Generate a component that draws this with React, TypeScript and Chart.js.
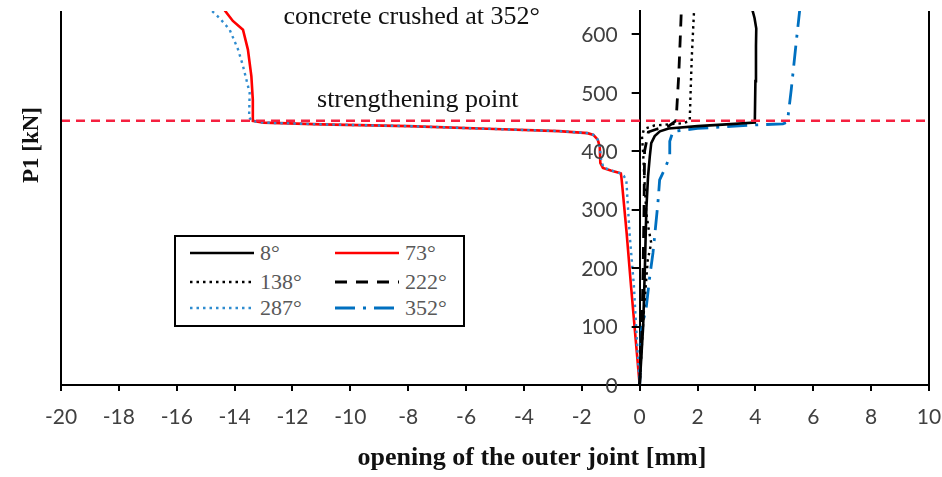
import React, { useEffect, useRef } from 'react';
import { Chart, registerables } from 'chart.js';

Chart.register(...registerables);

// ---------- data (opening of outer joint [mm] vs P1 [kN]) ----------
const xMin = -20;
const xMax = 10;
const xStep = 2;
const yMin = 0;
const yMax = 640;
const yStep = 100;

const s8x = [0, 0.12, 0.18, 0.23, 0.29, 0.35, 0.4, 0.52, 0.7, 1.0, 2.0, 3.0, 3.98, 4.0, 4.02, 4.03, 3.97, 3.9];
const s8y = [0, 100, 200, 300, 357, 391, 414, 426, 434, 439, 443, 446, 449, 520, 580, 610, 628, 641];

const s73x = [0, -0.15, -0.3, -0.45, -0.6, -0.63, -0.65, -0.69, -1.0, -1.27, -1.36, -1.38, -1.45, -1.6, -1.8, -2.8, -5, -8, -11, -13.0, -13.37, -13.37, -13.42, -13.54, -13.71, -14.06, -14.34];
const s73y = [0, 85, 170, 260, 340, 355, 362, 363, 367, 371.5, 380, 408, 420, 428, 431, 434.5, 438, 443, 446, 449, 452, 488, 528, 574, 608, 623, 641];

const s138x = [0, 0.06, 0.15, 0.28, 0.4, 0.3, 0.23, 0.17, 0.12, 0.08, 0.15, 0.5, 1.0, 1.5, 1.73, 1.76, 1.8, 1.88];
const s138y = [0, 55, 130, 214, 243, 270, 294, 346, 397, 425, 438, 444, 446, 448, 452, 500, 560, 641];

const s222x = [0, 0.08, 0.12, 0.15, 0.17, 0.3, 0.6, 1.0, 1.25, 1.28, 1.35, 1.4, 1.44];
const s222y = [0, 100, 200, 300, 400, 433, 438, 443, 452, 470, 530, 590, 641];

const s287x = [0, -0.1, -0.2, -0.35, -0.46, -0.55, -0.65, -0.9, -1.25, -1.33, -1.38, -1.45, -1.6, -1.8, -2.8, -5, -8, -11, -13.0, -13.4, -13.5, -13.48, -13.71, -13.88, -14.17, -14.52, -14.8];
const s287y = [0, 80, 170, 260, 350, 358, 362, 366, 372, 385, 408, 420, 428, 431, 434.5, 438, 443, 446, 449, 452, 458, 500, 546, 574, 608, 628, 641];

const s352x = [0, 0.06, 0.23, 0.35, 0.46, 0.63, 0.69, 0.86, 1.04, 1.04, 1.15, 2.0, 3.0, 4.0, 4.95, 5.07, 5.13, 5.24, 5.42, 5.53];
const s352y = [0, 94, 134, 186, 226, 311, 351, 369, 391, 417, 434, 439, 442, 445, 447, 449, 460, 506, 591, 641];

const strengtheningLoad = 452;

const noteStrengthening = { text: 'strengthening point', x: -7.67, y: 475 };
const noteCrushed = { text: 'concrete crushed at 352°', x: -7.88, y: 617 };

const xTitle = 'opening of the outer joint [mm]';
const yTitle = 'P1 [kN]';

// ---------- styling ----------
const series = [
  { label: '8°', xs: s8x, ys: s8y, color: '#000000', width: 2.6, dash: [] as number[] },
  { label: '138°', xs: s138x, ys: s138y, color: '#000000', width: 2.4, dash: [2.5, 4] },
  { label: '222°', xs: s222x, ys: s222y, color: '#000000', width: 2.8, dash: [12, 9] },
  { label: '352°', xs: s352x, ys: s352y, color: '#0070C0', width: 2.8, dash: [20, 8, 3, 8] },
  { label: '287°', xs: s287x, ys: s287y, color: '#2f8ccf', width: 2.4, dash: [2.5, 4] },
  { label: '73°', xs: s73x, ys: s73y, color: '#ff0000', width: 2.6, dash: [] as number[] },
];

const legendOrder = ['8°', '73°', '138°', '222°', '287°', '352°'];

const tickFontFamily = 'Lato, "Open Sans", sans-serif';
const tickFont = { family: tickFontFamily, size: 21 };
const tickColor = '#404040';

const overlayPlugin = {
  id: 'overlay',
  afterDatasetsDraw(chart: any) {
    const { ctx, chartArea, scales } = chart;
    const y = scales.y;
    const py = y.getPixelForValue(strengtheningLoad);
    ctx.save();
    ctx.strokeStyle = '#f5203f';
    ctx.lineWidth = 2.5;
    ctx.setLineDash([9, 6]);
    ctx.beginPath();
    ctx.moveTo(chartArea.left, py);
    ctx.lineTo(chartArea.right, py);
    ctx.stroke();
    ctx.restore();
  },
  afterDraw(chart: any) {
    const { ctx, chartArea, scales } = chart;
    const x = scales.x;
    const y = scales.y;
    ctx.save();
    // frame lines
    ctx.strokeStyle = '#000';
    ctx.lineWidth = 2;
    ctx.setLineDash([]);
    ctx.beginPath();
    ctx.moveTo(chartArea.left, chartArea.top);
    ctx.lineTo(chartArea.left, chartArea.bottom);
    ctx.moveTo(chartArea.right, chartArea.top);
    ctx.lineTo(chartArea.right, chartArea.bottom);
    ctx.stroke();

    // y tick marks and labels, left of the axis at x = 0
    const x0 = x.getPixelForValue(0);
    ctx.beginPath();
    y.ticks.forEach((t: any) => {
      const py = Math.round(y.getPixelForValue(t.value));
      ctx.moveTo(x0 - 8, py);
      ctx.lineTo(x0, py);
    });
    ctx.stroke();
    ctx.fillStyle = tickColor;
    ctx.font = `${tickFont.size}px ${tickFontFamily}`;
    ctx.textAlign = 'right';
    ctx.textBaseline = 'middle';
    y.ticks.forEach((t: any) => {
      ctx.fillText(String(t.value), x0 - 22, y.getPixelForValue(t.value) + 1);
    });

    // annotations
    ctx.fillStyle = '#111';
    ctx.textAlign = 'center';
    ctx.textBaseline = 'alphabetic';
    ctx.font = '26px "Liberation Serif", "Times New Roman", serif';
    [noteStrengthening, noteCrushed].forEach((n) => {
      ctx.fillText(n.text, x.getPixelForValue(n.x), y.getPixelForValue(n.y));
    });

    // axis titles
    ctx.font = 'bold 26px "Liberation Serif", "Times New Roman", serif';
    ctx.fillText(xTitle, (chartArea.left + chartArea.right) / 2 + 37, 465);
    ctx.translate(32, (chartArea.top + chartArea.bottom) / 2 - 53);
    ctx.rotate(-Math.PI / 2);
    ctx.textBaseline = 'middle';
    ctx.font = 'bold 23px "Liberation Serif", "Times New Roman", serif';
    ctx.fillText(yTitle, 0, 0);
    ctx.restore();
  },
};

function LegendSample({ color, width, dash }: { color: string; width: number; dash: number[] }) {
  return (
    <svg width={64} height={8} style={{ display: 'block' }}>
      <line
        x1={0}
        y1={4}
        x2={64}
        y2={4}
        stroke={color}
        strokeWidth={width}
        strokeDasharray={dash.length ? dash.join(' ') : undefined}
      />
    </svg>
  );
}

export default function App() {
  const canvasRef = useRef<HTMLCanvasElement | null>(null);

  useEffect(() => {
    if (!canvasRef.current) return;
    const chart = new Chart(canvasRef.current, {
      type: 'scatter',
      data: {
        datasets: series.map((s) => ({
          label: s.label,
          data: s.xs.map((v, i) => ({ x: v, y: s.ys[i] })),
          showLine: true,
          borderColor: s.color,
          backgroundColor: s.color,
          borderWidth: s.width,
          borderDash: s.dash,
          pointRadius: 0,
          tension: 0,
          fill: false,
        })),
      },
      options: {
        animation: false,
        responsive: true,
        maintainAspectRatio: false,
        events: [],
        layout: { padding: { left: 61, right: 13, top: 11, bottom: 0 } },
        plugins: {
          legend: { display: false },
          tooltip: { enabled: false },
          title: { display: false },
        },
        scales: {
          x: {
            type: 'linear',
            position: 'bottom',
            min: xMin,
            max: xMax,
            ticks: {
              stepSize: xStep,
              font: tickFont,
              color: tickColor,
              padding: 14,
              maxRotation: 0,
              autoSkip: false,
            },
            grid: {
              display: true,
              drawOnChartArea: false,
              drawTicks: true,
              tickLength: 6,
              color: '#000',
              lineWidth: 2,
            },
            border: { display: true, color: '#000', width: 2 },
            afterFit: (s: any) => {
              s.height = 92;
              s.paddingLeft = 0;
              s.paddingRight = 0;
            },
          },
          y: {
            type: 'linear',
            position: { x: 0 },
            min: yMin,
            max: yMax,
            ticks: {
              stepSize: yStep,
              display: false,
            },
            afterBuildTicks: (s: any) => {
              s.ticks = s.ticks.filter((t: any) => t.value % yStep === 0);
            },
            grid: {
              display: false,
            },
            border: { display: true, color: '#000', width: 2 },
            afterFit: (s: any) => {
              s.paddingTop = 0;
              s.paddingBottom = 0;
            },
          },
        } as any,
      },
      plugins: [overlayPlugin],
    });
    return () => chart.destroy();
  }, []);

  const legendItems = legendOrder.map((lab) => series.find((s) => s.label === lab)!);
  const rowTops = [18, 47, 73];
  const colLeft = [16, 161];

  return (
    <div style={{ position: 'fixed', left: 0, top: 0, width: 942, height: 477, background: '#fff' }}>
      <canvas ref={canvasRef} />
      <div
        style={{
          position: 'absolute',
          left: 174,
          top: 235,
          width: 291,
          height: 92,
          boxSizing: 'border-box',
          border: '2px solid #000',
          background: '#fff',
        }}
      >
        {legendItems.map((s, i) => (
          <div
            key={s.label}
            style={{
              position: 'absolute',
              left: colLeft[i % 2] - 2,
              top: rowTops[Math.floor(i / 2)] - 2 - 13,
              height: 26,
              display: 'flex',
              alignItems: 'center',
            }}
          >
            <LegendSample color={s.color} width={s.width} dash={s.dash} />
            <span
              style={{
                marginLeft: 6,
                fontFamily: '"Liberation Serif", "Times New Roman", serif',
                fontSize: 22,
                color: '#595959',
                lineHeight: '26px',
              }}
            >
              {s.label}
            </span>
          </div>
        ))}
      </div>
    </div>
  );
}
